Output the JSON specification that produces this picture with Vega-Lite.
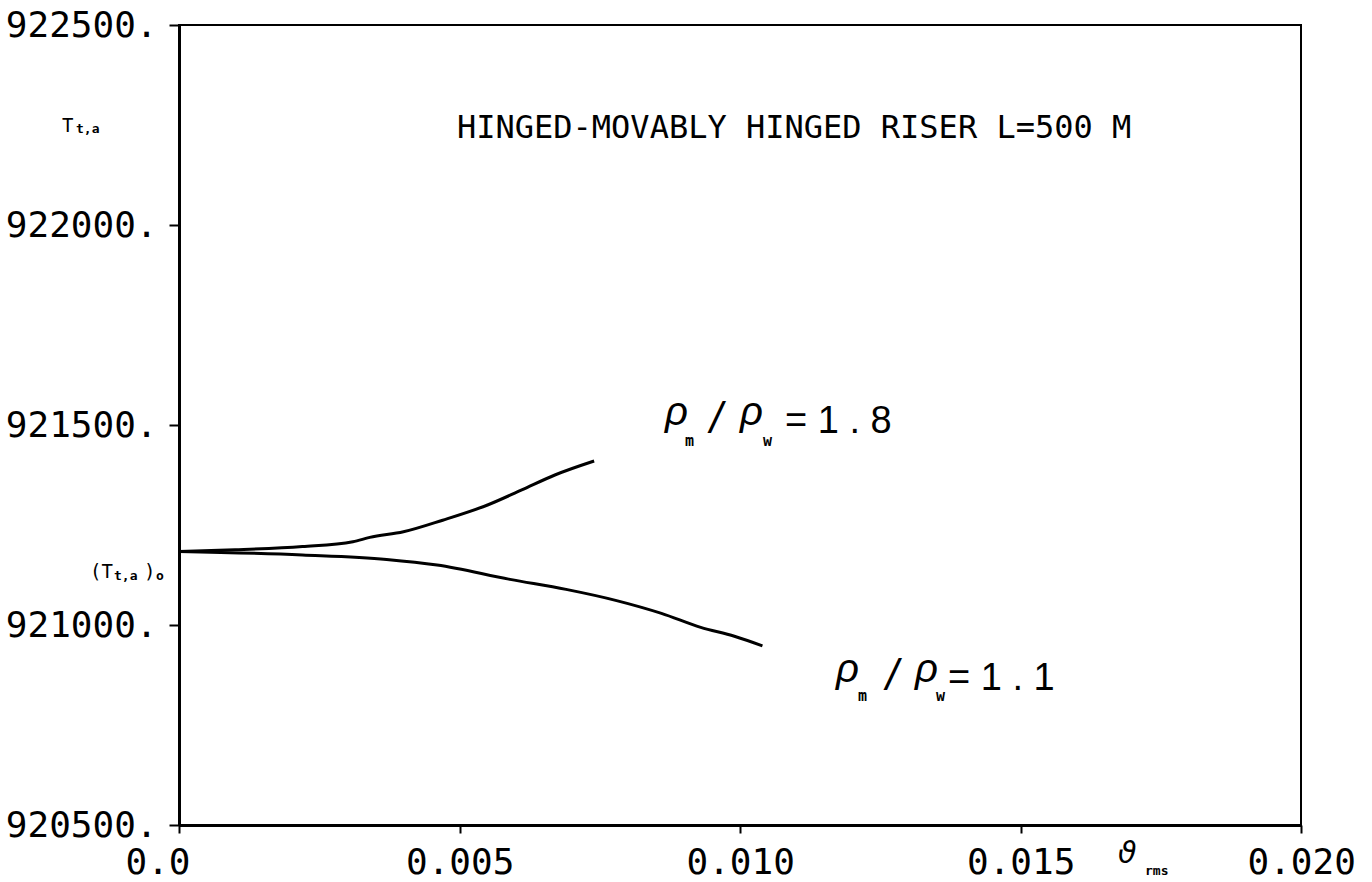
{
  "$schema": "https://vega.github.io/schema/vega-lite/v6.json",
  "width": 1122,
  "height": 800,
  "autosize": {"type": "none"},
  "padding": {"left": 179, "top": 25, "right": 71, "bottom": 57},
  "background": "white",
  "config": {
    "view": {"stroke": "black", "strokeWidth": 2},
    "axis": {"grid": false, "domainColor": "black", "domainWidth": 3, "tickColor": "black", "tickWidth": 2, "labelColor": "black", "labelFont": "DejaVu Sans Mono", "labelFontSize": 36, "labelOverlap": false, "labelFlush": false, "labelBound": false, "title": null}
  },
  "datasets": {
    "curves": [
      {"s": "1.8", "v": 0, "T": 921184},
      {"s": "1.8", "v": 0.001, "T": 921188},
      {"s": "1.8", "v": 0.0022, "T": 921196},
      {"s": "1.8", "v": 0.0031, "T": 921208},
      {"s": "1.8", "v": 0.0034, "T": 921219},
      {"s": "1.8", "v": 0.004, "T": 921233},
      {"s": "1.8", "v": 0.0047, "T": 921262},
      {"s": "1.8", "v": 0.0055, "T": 921300},
      {"s": "1.8", "v": 0.0061, "T": 921337},
      {"s": "1.8", "v": 0.0067, "T": 921375},
      {"s": "1.8", "v": 0.0074, "T": 921410},
      {"s": "1.1", "v": 0, "T": 921184},
      {"s": "1.1", "v": 0.0022, "T": 921175},
      {"s": "1.1", "v": 0.0037, "T": 921164},
      {"s": "1.1", "v": 0.0046, "T": 921150},
      {"s": "1.1", "v": 0.0059, "T": 921114},
      {"s": "1.1", "v": 0.0069, "T": 921089},
      {"s": "1.1", "v": 0.0078, "T": 921061},
      {"s": "1.1", "v": 0.0086, "T": 921029},
      {"s": "1.1", "v": 0.0093, "T": 920994},
      {"s": "1.1", "v": 0.0099, "T": 920972},
      {"s": "1.1", "v": 0.0104, "T": 920948}
    ]
  },
  "layer": [
    {
      "data": {"name": "curves"},
      "mark": {"type": "line", "color": "black", "strokeWidth": 3, "clip": false, "interpolate": "monotone"},
      "encoding": {
        "x": {"field": "v", "type": "quantitative", "scale": {"domain": [0, 0.02], "nice": false, "zero": false},
          "axis": {"values": [0, 0.005, 0.01, 0.015, 0.02], "labelExpr": "datum.value == 0 ? '0.0' : format(datum.value, '.3f')", "tickSize": 8, "labelPadding": 12, "labelAlign": "left", "labelOffset": -54, "labelBaseline": "top"}},
        "y": {"field": "T", "type": "quantitative", "scale": {"domain": [920500, 922500], "nice": false, "zero": false},
          "axis": {"values": [920500, 921000, 921500, 922000, 922500], "labelExpr": "format(datum.value, 'd') + '.'", "tickSize": 10, "labelPadding": 12}},
        "detail": {"field": "s"}
      }
    },
    {
      "data": {"values": [{"t": "HINGED-MOVABLY HINGED RISER L=500 M"}]},
      "mark": {"type": "text", "font": "DejaVu Sans Mono", "fontSize": 32, "align": "left", "baseline": "middle", "color": "black"},
      "encoding": {"x": {"datum": 0.004955, "type": "quantitative"}, "y": {"datum": 922242.5, "type": "quantitative"}, "text": {"field": "t"}}
    },
    {
      "data": {"values": [{"t": "T", "v": -0.002086, "T": 922232.5}, {"t": "(T", "v": -0.001586, "T": 921117.5}, {"t": ")", "v": -0.000624, "T": 921117.5}]},
      "mark": {"type": "text", "font": "DejaVu Sans Mono", "fontSize": 19, "align": "left", "baseline": "alphabetic", "color": "black"},
      "encoding": {"x": {"field": "v", "type": "quantitative"}, "y": {"field": "T", "type": "quantitative"}, "text": {"field": "t"}}
    },
    {
      "data": {"values": [{"t": "t,a", "v": -0.001836, "T": 922230}, {"t": "t,a", "v": -0.001159, "T": 921112.5}, {"t": "o", "v": -0.00041, "T": 921112.5}, {"t": "rms", "v": 0.017219, "T": 920375}]},
      "mark": {"type": "text", "font": "DejaVu Sans Mono", "fontSize": 13, "fontWeight": "bold", "align": "left", "baseline": "alphabetic", "color": "black"},
      "encoding": {"x": {"field": "v", "type": "quantitative"}, "y": {"field": "T", "type": "quantitative"}, "text": {"field": "t"}}
    },
    {
      "data": {"values": [{"t": "ϑ", "v": 0.016738, "T": 920405}]},
      "mark": {"type": "text", "font": "DejaVu Sans", "fontSize": 30, "fontStyle": "italic", "align": "left", "baseline": "alphabetic", "color": "black"},
      "encoding": {"x": {"field": "v", "type": "quantitative"}, "y": {"field": "T", "type": "quantitative"}, "text": {"field": "t"}}
    },
    {
      "data": {"values": [{"t": "ρ", "v": 0.008663, "T": 921500}, {"t": "ρ", "v": 0.0100, "T": 921500}, {"t": "ρ", "v": 0.011711, "T": 920857.5}, {"t": "ρ", "v": 0.013119, "T": 920857.5}]},
      "mark": {"type": "text", "font": "Liberation Sans", "fontSize": 40, "fontStyle": "italic", "align": "left", "baseline": "alphabetic", "color": "black"},
      "encoding": {"x": {"field": "v", "type": "quantitative"}, "y": {"field": "T", "type": "quantitative"}, "text": {"field": "t"}}
    },
    {
      "data": {"values": [{"t": "m", "v": 0.009019, "T": 921447.5}, {"t": "w", "v": 0.01041, "T": 921447.5}, {"t": "m", "v": 0.012103, "T": 920810}, {"t": "w", "v": 0.013494, "T": 920810}]},
      "mark": {"type": "text", "font": "DejaVu Sans Mono", "fontSize": 15, "fontWeight": "bold", "align": "left", "baseline": "alphabetic", "color": "black"},
      "encoding": {"x": {"field": "v", "type": "quantitative"}, "y": {"field": "T", "type": "quantitative"}, "text": {"field": "t"}}
    },
    {
      "data": {"values": [{"t": "/", "v": 0.009465, "T": 921480}, {"t": "/", "v": 0.012602, "T": 920837.5}]},
      "mark": {"type": "text", "font": "Liberation Sans", "fontSize": 44, "fontStyle": "italic", "align": "left", "baseline": "alphabetic", "color": "black"},
      "encoding": {"x": {"field": "v", "type": "quantitative"}, "y": {"field": "T", "type": "quantitative"}, "text": {"field": "t"}}
    },
    {
      "data": {"values": [{"t": "= 1 . 8", "v": 0.010802, "T": 921480}, {"t": "= 1 . 1", "v": 0.013708, "T": 920837.5}]},
      "mark": {"type": "text", "font": "Liberation Sans", "fontSize": 38, "align": "left", "baseline": "alphabetic", "color": "black"},
      "encoding": {"x": {"field": "v", "type": "quantitative"}, "y": {"field": "T", "type": "quantitative"}, "text": {"field": "t"}}
    }
  ]
}
